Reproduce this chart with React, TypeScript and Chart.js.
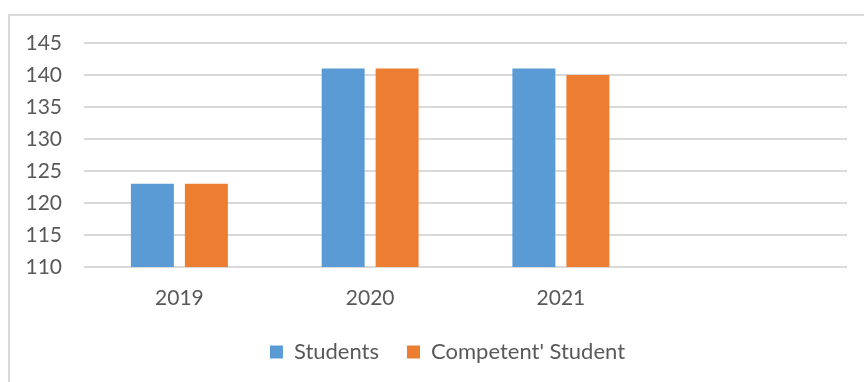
import React, { useEffect, useRef } from "react";
import { Chart, registerables } from "chart.js";

Chart.register(...registerables);

const categories = ["2019", "2020", "2021", ""];
const students = [123, 141, 141, null];
const competent = [123, 141, 140, null];
const seriesNames = ["Students", "Competent' Student"];
const yMin = 110;
const yMax = 145;
const yStep = 5;

const FONT = "Lato, 'Open Sans', sans-serif";
const TEXT = "#595959";

const legendShift = {
  id: "legendShift",
  afterLayout(chart: any) {
    const lg = chart.legend;
    if (lg) {
      lg.left += 19;
      lg.right += 19;
    }
  },
};

export default function App() {
  const ref = useRef<HTMLCanvasElement | null>(null);
  useEffect(() => {
    if (!ref.current) return;
    const chart = new Chart(ref.current, {
      type: "bar",
      data: {
        labels: categories,
        datasets: [
          {
            label: seriesNames[0],
            data: students,
            backgroundColor: "#5B9BD5",
            categoryPercentage: 0.566,
            barPercentage: 0.796,
          },
          {
            label: seriesNames[1],
            data: competent,
            backgroundColor: "#ED7D31",
            categoryPercentage: 0.566,
            barPercentage: 0.796,
          },
        ],
      },
      plugins: [legendShift],
      options: {
        responsive: false,
        animation: false,
        layout: { padding: { top: 27, right: 17, left: 0, bottom: 9 } },
        plugins: {
          tooltip: { enabled: false },
          legend: {
            position: "bottom",
            labels: {
              boxWidth: 13,
              boxHeight: 13,
              padding: 28,
              color: TEXT,
              font: { family: FONT, size: 22 },
            },
          },
        },
        scales: {
          x: {
            grid: { display: false },
            border: { display: false },
            ticks: { color: TEXT, font: { family: FONT, size: 21 }, padding: 11 },
            afterFit: (s: any) => {
              s.height = 46;
              s.paddingRight = 0;
              s.paddingLeft = 0;
            },
          },
          y: {
            min: yMin,
            max: yMax,
            grid: { color: "#D9D9D9", lineWidth: 2, drawTicks: false },
            border: { display: false },
            ticks: {
              stepSize: yStep,
              color: TEXT,
              font: { family: FONT, size: 21 },
              padding: 22,
            },
            afterFit: (s: any) => {
              s.width = 74;
              s.paddingTop = 0;
              s.paddingBottom = 0;
            },
          },
        },
      },
    });
    return () => chart.destroy();
  }, []);
  return (
    <div
      style={{
        position: "fixed",
        left: 8,
        top: 14,
        width: 856,
        height: 368,
        borderLeft: "2px solid #D9D9D9",
        borderTop: "2px solid #D9D9D9",
        background: "#fff",
      }}
    >
      <canvas ref={ref} width={854} height={366} style={{ display: "block" }} />
    </div>
  );
}
